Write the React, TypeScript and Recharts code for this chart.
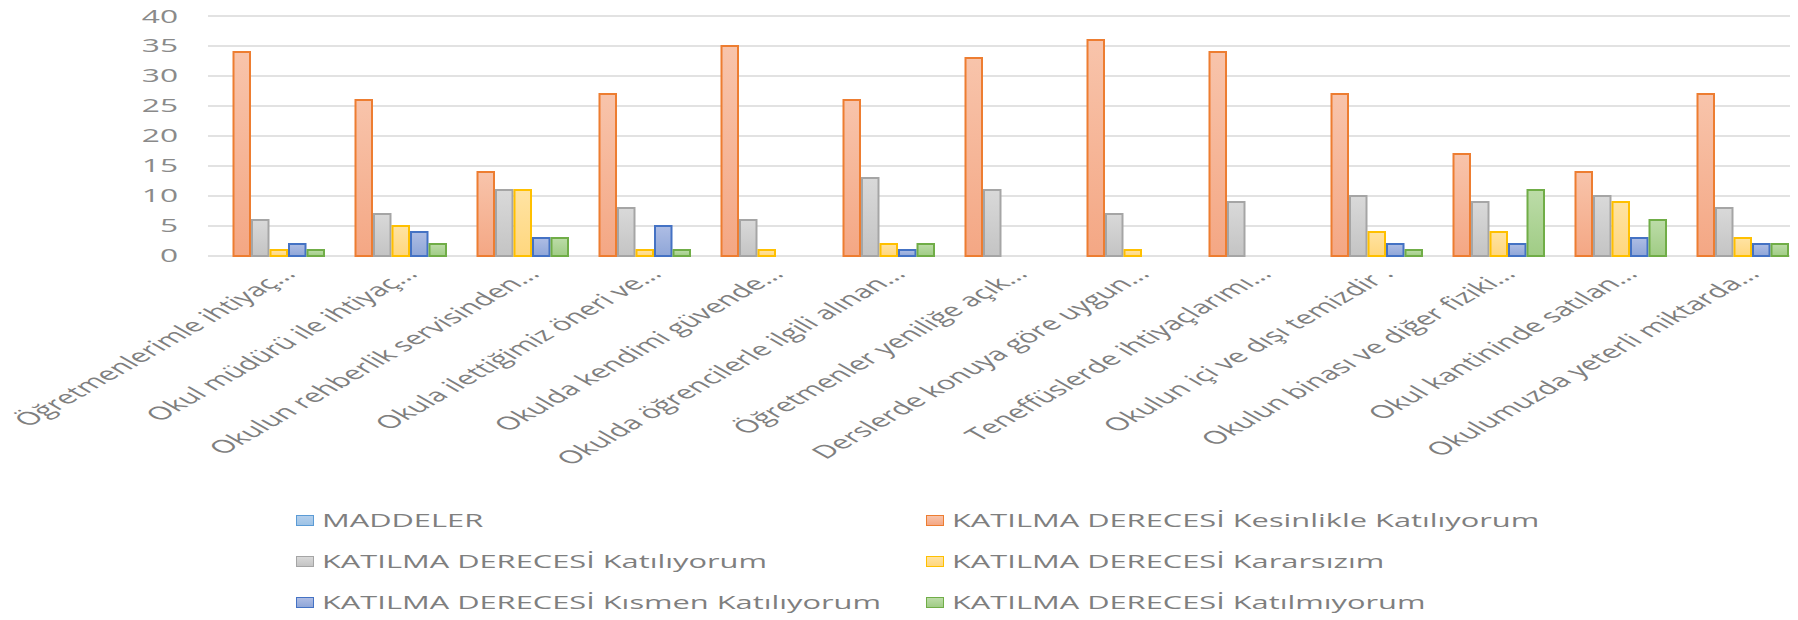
import { BarChart, Bar, XAxis, YAxis, CartesianGrid, Legend } from "recharts"

const categories = [
  "Öğretmenlerimle ihtiyaç…",
  "Okul müdürü ile ihtiyaç…",
  "Okulun rehberlik servisinden…",
  "Okula ilettiğimiz öneri ve…",
  "Okulda kendimi güvende…",
  "Okulda öğrencilerle ilgili alınan…",
  "Öğretmenler yeniliğe açık…",
  "Derslerde konuya göre uygun…",
  "Teneffüslerde ihtiyaçlarımı…",
  "Okulun içi ve dışı temizdir .",
  "Okulun binası ve diğer fiziki…",
  "Okul kantininde satılan…",
  "Okulumuzda yeterli miktarda…",
]

const maddeler = [null, null, null, null, null, null, null, null, null, null, null, null, null]
const kesinlikle = [34, 26, 14, 27, 35, 26, 33, 36, 34, 27, 17, 14, 27]
const katiliyorum = [6, 7, 11, 8, 6, 13, 11, 7, 9, 10, 9, 10, 8]
const kararsizim = [1, 5, 11, 1, 1, 2, 0, 1, 0, 4, 4, 9, 3]
const kismen = [2, 4, 3, 5, 0, 1, 0, 0, 0, 2, 2, 3, 2]
const katilmiyorum = [1, 2, 3, 1, 0, 2, 0, 0, 0, 1, 11, 6, 2]

const yTicks = [0, 5, 10, 15, 20, 25, 30, 35, 40]

const series = [
  { key: "maddeler", name: "MADDELER", stroke: "#5B9BD5", top: "#B4CFEC", bottom: "#9DC3E6" },
  { key: "kesinlikle", name: "KATILMA DERECESİ Kesinlikle Katılıyorum", stroke: "#ED7D31", top: "#F8C4AB", bottom: "#F4A784" },
  { key: "katiliyorum", name: "KATILMA DERECESİ Katılıyorum", stroke: "#A5A5A5", top: "#D9D9D9", bottom: "#C4C4C4" },
  { key: "kararsizim", name: "KATILMA DERECESİ Kararsızım", stroke: "#FFC000", top: "#FFE3A3", bottom: "#FFD77E" },
  { key: "kismen", name: "KATILMA DERECESİ Kısmen Katılıyorum", stroke: "#4472C4", top: "#AEBDE4", bottom: "#8FA6D8" },
  { key: "katilmiyorum", name: "KATILMA DERECESİ Katılmıyorum", stroke: "#70AD47", top: "#BCDCA8", bottom: "#A0CC85" },
]

const data = categories.map((name, i) => ({
  name,
  maddeler: maddeler[i],
  kesinlikle: kesinlikle[i],
  katiliyorum: katiliyorum[i],
  kararsizim: kararsizim[i],
  kismen: kismen[i],
  katilmiyorum: katilmiyorum[i],
}))

// the source picture is stretched sideways, so text gets the same stretch
const STRETCH = 1.76
const FONT = "'Open Sans', 'DejaVu Sans', sans-serif"

function YTick({ x, y, payload }: any) {
  return (
    <g transform={`translate(${x},${y}) scale(${STRETCH},1)`}>
      <text x={0} y={0} dy="0.36em" textAnchor="end" fontSize={18} fill="#8a8a8a" fontFamily={FONT}>
        {payload.value}
      </text>
    </g>
  )
}

function XTick({ x, y, payload }: any) {
  return (
    <g transform={`translate(${x + 28},${y + 19}) scale(${STRETCH},1) rotate(-45)`}>
      <text x={0} y={0} textAnchor="end" fontSize={18} fill="#7f7f7f" fontFamily={FONT}>
        {payload.value}
      </text>
    </g>
  )
}

// legend keeps the series order, two items per row
function LegendBox() {
  return (
    <div style={{ position: "relative", width: 1790, height: 120 }}>
      {series.map((s, i) => {
        const col = i % 2
        const row = Math.floor(i / 2)
        return (
          <div
            key={s.key}
            style={{
              position: "absolute",
              left: col === 0 ? 288 : 918,
              top: 10 + row * 41,
              height: 20,
              display: "flex",
              alignItems: "center",
              whiteSpace: "nowrap",
            }}
          >
            <div
              style={{
                width: 16,
                height: 9,
                border: `1.5px solid ${s.stroke}`,
                background: `linear-gradient(${s.top}, ${s.bottom})`,
              }}
            />
            <span
              style={{
                display: "inline-block",
                marginLeft: 8,
                fontFamily: FONT,
                fontSize: 17.5,
                color: "#7f7f7f",
                transform: `scaleX(${STRETCH})`,
                transformOrigin: "left center",
              }}
            >
              {s.name}
            </span>
          </div>
        )
      })}
    </div>
  )
}

export default function App() {
  return (
    <BarChart
      width={1790}
      height={612}
      data={data}
      margin={{ top: 8, right: 4, bottom: 0, left: 0 }}
      barCategoryGap={6}
      barGap={2}
      barSize={16.5}
    >
      <defs>
        {series.map((s) => (
          <linearGradient key={s.key} id={`grad-${s.key}`} x1="0" y1="0" x2="0" y2="1">
            <stop offset="0%" stopColor={s.top} />
            <stop offset="100%" stopColor={s.bottom} />
          </linearGradient>
        ))}
      </defs>
      <CartesianGrid vertical={false} stroke="#d9d9d9" strokeWidth={1.5} />
      <XAxis
        dataKey="name"
        interval={0}
        height={244}
        axisLine={false}
        tickLine={false}
        tickSize={0}
        tickMargin={0}
        tick={<XTick />}
      />
      <YAxis
        domain={[0, 40]}
        ticks={yTicks}
        width={200}
        axisLine={false}
        tickLine={false}
        tickSize={0}
        tickMargin={30}
        tick={<YTick />}
      />
      <Legend verticalAlign="bottom" content={<LegendBox />} wrapperStyle={{ left: 0, width: 1790 }} />
      {series.map((s) => (
        <Bar
          key={s.key}
          dataKey={s.key}
          name={s.name}
          fill={`url(#grad-${s.key})`}
          stroke={s.stroke}
          strokeWidth={2}
          isAnimationActive={false}
        />
      ))}
    </BarChart>
  )
}
